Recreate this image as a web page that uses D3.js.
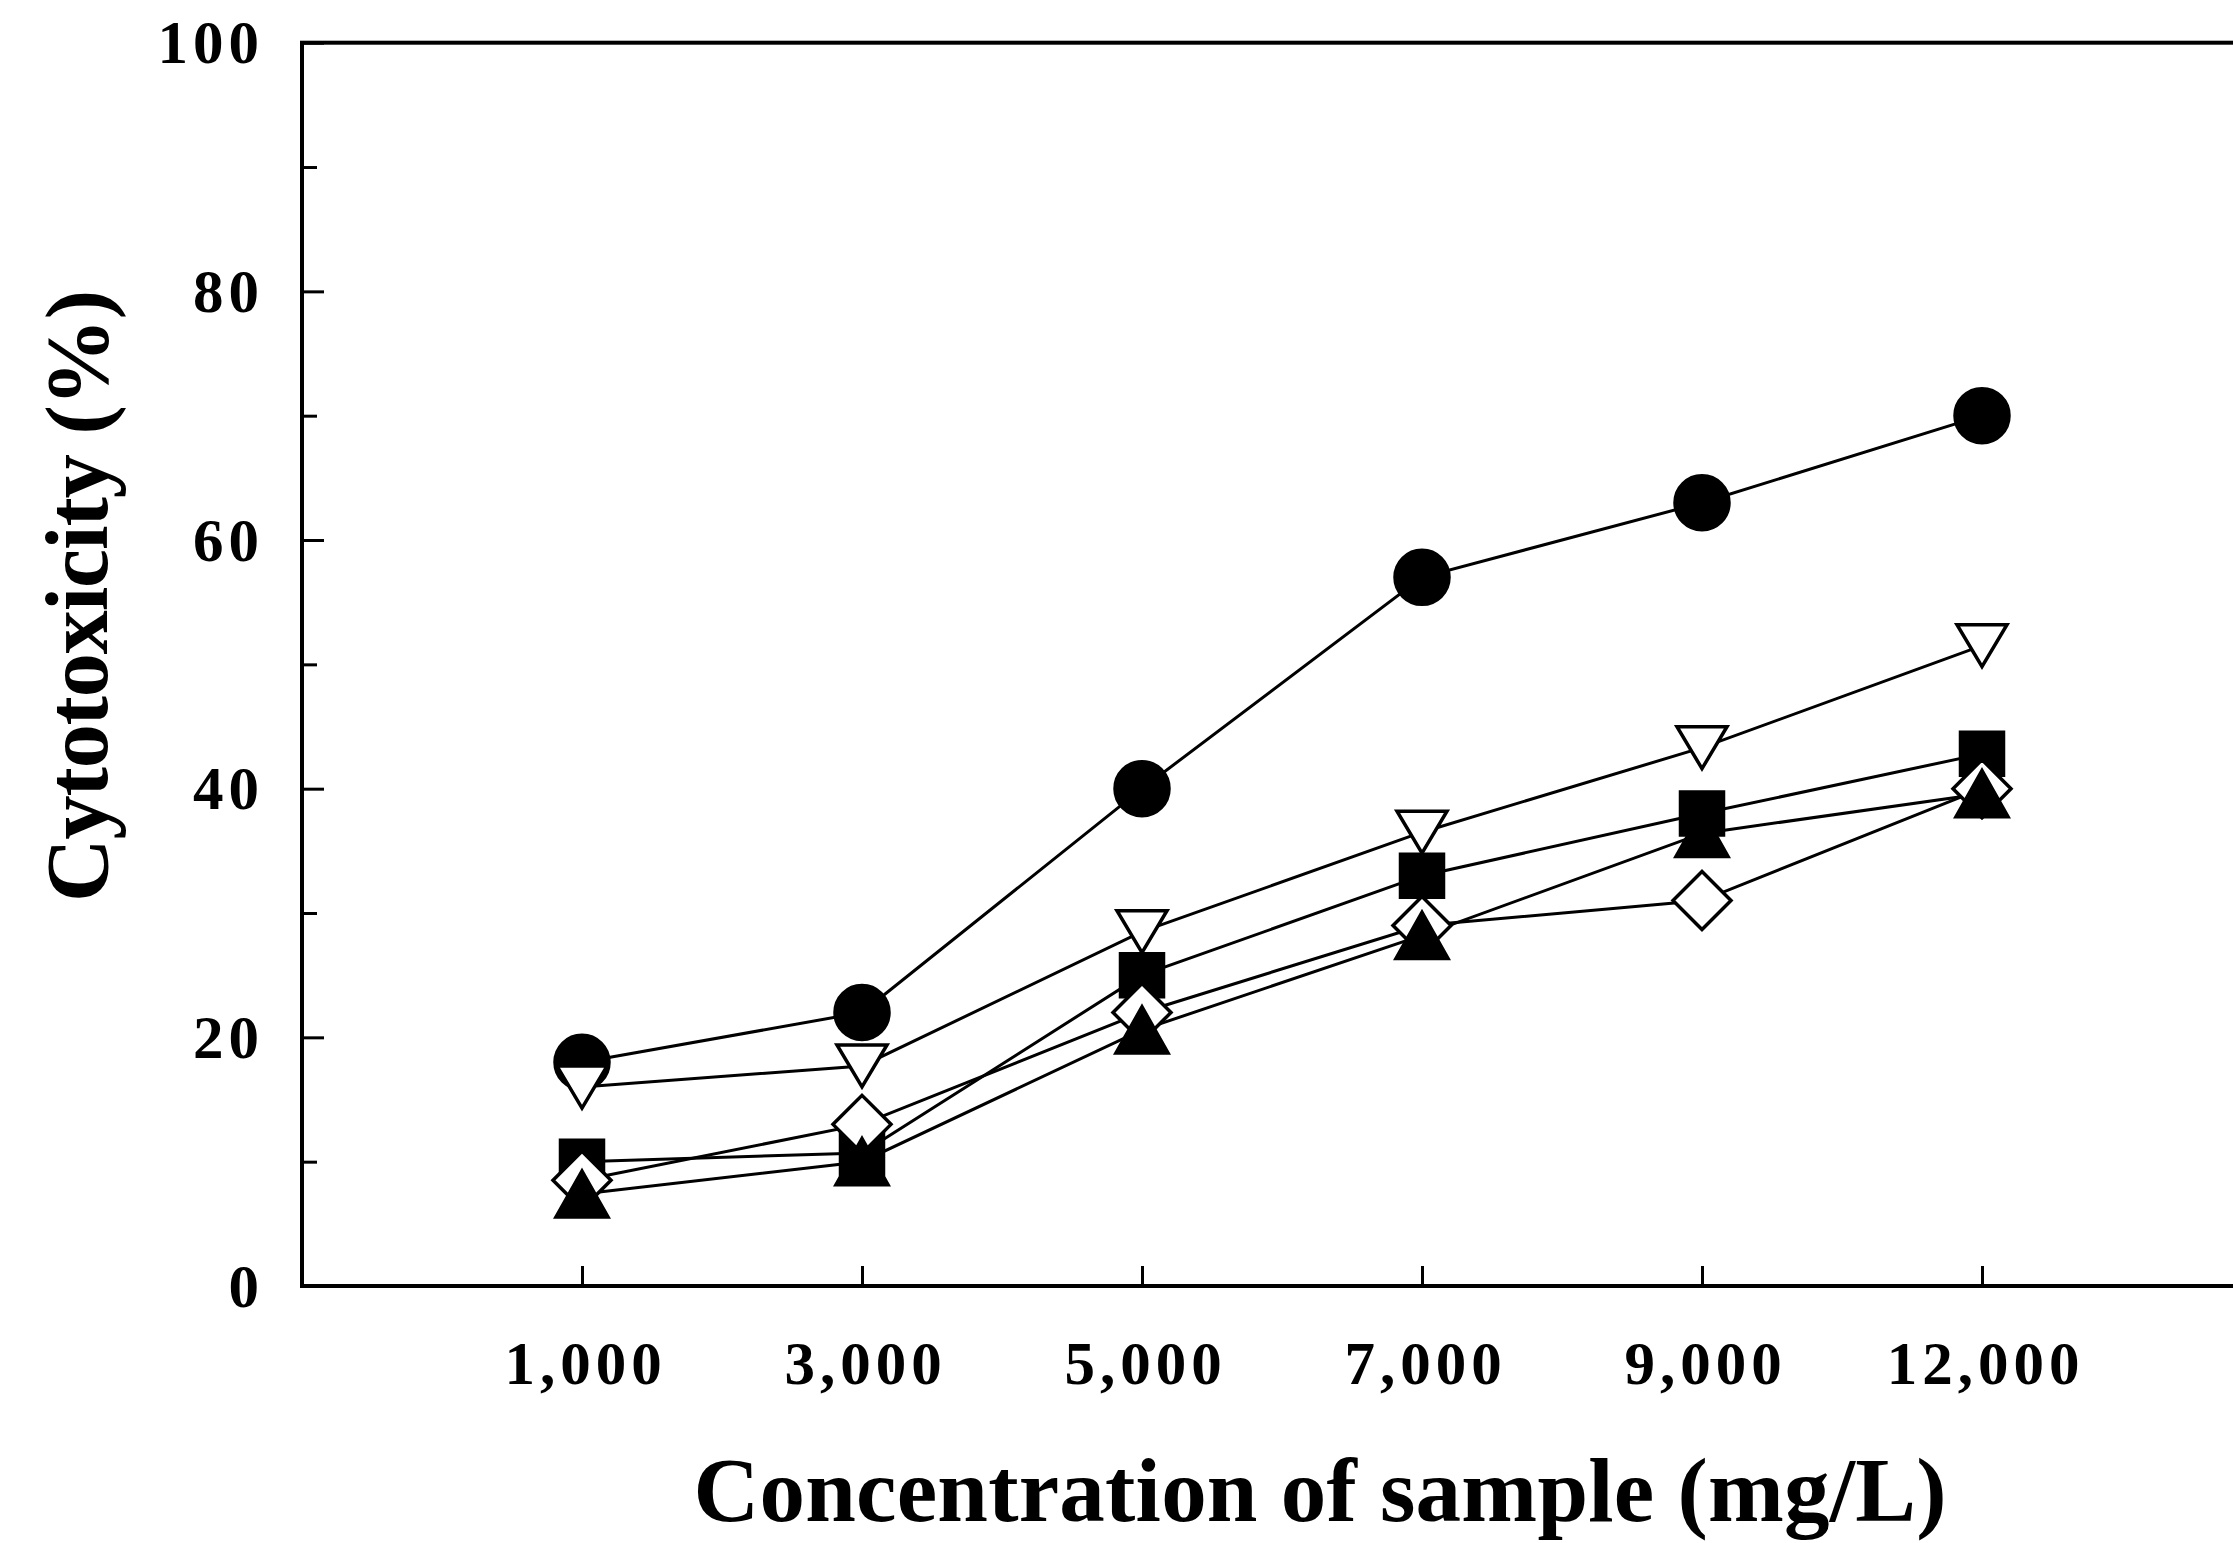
<!DOCTYPE html>
<html lang="en">

<script src="https://d3js.org/d3.v7.min.js"></script>

<head>
    <meta charset="UTF-8">
    <title>Cytotoxicity</title>

    <style>
        body {
            margin: 0;
            background-color: white;
        }

        svg text {
            font-family: "Liberation Serif", "Times New Roman", serif;
            font-weight: bold;
            fill: black;
        }
    </style>
</head>
<body>

    <svg width="2233" height="1543" id="chart"></svg>

    <script>
        // data
        const concentrations = ["1,000", "3,000", "5,000", "7,000", "9,000", "12,000"];
        const circleValues   = [18, 22, 40, 57, 63, 70];
        const invTriValues   = [16, 17.7, 28.5, 36.5, 43.3, 51.5];
        const squareValues   = [10, 10.7, 25, 33, 38, 42.8];
        const diamondValues  = [8.5, 13, 22, 29, 31, 40];
        const triUpValues    = [7.4, 10, 20.6, 28.2, 36.4, 39.6];

        const yMajorTicks = [0, 20, 40, 60, 80, 100];
        const yMinorTicks = [10, 30, 50, 70, 90];

        // series in drawing order
        const series = [
            { name: "circle",  values: circleValues,  fill: "black" },
            { name: "invTri",  values: invTriValues,  fill: "white" },
            { name: "square",  values: squareValues,  fill: "black" },
            { name: "diamond", values: diamondValues, fill: "white" },
            { name: "triUp",   values: triUpValues,   fill: "black" },
        ];

        const svg = d3.select('#chart');

        // plot box
        const plotLeft = 302, plotRight = 2262, plotTop = 42.7, plotBottom = 1286;

        const x = d3.scalePoint()
            .domain(concentrations)
            .range([plotLeft, plotRight])
            .padding(1);

        const y = d3.scaleLinear()
            .domain([0, 100])
            .range([plotBottom, plotTop]);

        // frame (right side falls off the picture)
        svg.append("rect")
            .attr("x", plotLeft)
            .attr("y", plotTop)
            .attr("width", plotRight - plotLeft)
            .attr("height", plotBottom - plotTop)
            .attr("fill", "none")
            .attr("stroke", "black")
            .attr("stroke-width", 4);

        // y axis, labelled ticks
        const yAxis = svg.append("g")
            .attr("transform", `translate(${plotLeft},0)`)
            .call(d3.axisLeft(y)
                .tickValues(yMajorTicks)
                .tickSizeInner(-22)
                .tickSizeOuter(0)
                .tickPadding(38));
        yAxis.select(".domain").remove();
        yAxis.selectAll("line").attr("stroke-width", 3);
        yAxis.selectAll("text")
            .attr("font-size", 61)
            .attr("letter-spacing", 5)
            .attr("dy", "0.33em");

        // y axis, small ticks in between
        const yMinor = svg.append("g")
            .attr("transform", `translate(${plotLeft},0)`)
            .call(d3.axisLeft(y)
                .tickValues(yMinorTicks)
                .tickSizeInner(-15)
                .tickSizeOuter(0)
                .tickFormat(""));
        yMinor.select(".domain").remove();
        yMinor.selectAll("line").attr("stroke-width", 3);

        // x axis
        const xAxis = svg.append("g")
            .attr("transform", `translate(0,${plotBottom})`)
            .call(d3.axisBottom(x)
                .tickSizeInner(-20)
                .tickSizeOuter(0)
                .tickPadding(55));
        xAxis.select(".domain").remove();
        xAxis.selectAll("line").attr("stroke-width", 3);
        xAxis.selectAll("text")
            .attr("font-size", 61)
            .attr("letter-spacing", 5)
            .attr("dx", 3);

        // axis titles
        svg.append("text")
            .attr("x", 1320)
            .attr("y", 1521)
            .attr("text-anchor", "middle")
            .attr("font-size", 91)
            .attr("textLength", 1253)
            .attr("lengthAdjust", "spacing")
            .text("Concentration of sample (mg/L)");

        svg.append("text")
            .attr("transform", "translate(107,596) rotate(-90)")
            .attr("text-anchor", "middle")
            .attr("font-size", 88)
            .attr("textLength", 612)
            .attr("lengthAdjust", "spacing")
            .text("Cytotoxicity (%)");

        // marker shapes, centred on the point
        function markerPath(shape) {
            const p = d3.path();
            if (shape === "circle") {
                p.arc(0, 0, 27, 0, 2 * Math.PI);
            } else if (shape === "square") {
                p.rect(-21.5, -21.5, 43, 43);
            } else if (shape === "diamond") {
                p.moveTo(0, -29);
                p.lineTo(29, 0);
                p.lineTo(0, 29);
                p.lineTo(-29, 0);
                p.closePath();
            } else if (shape === "invTri") {
                p.moveTo(-25, -21);
                p.lineTo(25, -21);
                p.lineTo(0, 21);
                p.closePath();
            } else if (shape === "triUp") {
                p.moveTo(0, -23);
                p.lineTo(26, 23);
                p.lineTo(-26, 23);
                p.closePath();
            }
            return p.toString();
        }

        const line = d3.line()
            .x((d, i) => x(concentrations[i]))
            .y(d => y(d));

        // lines first, markers on top
        series.forEach(s => {
            svg.append("path")
                .datum(s.values)
                .attr("d", line)
                .attr("fill", "none")
                .attr("stroke", "black")
                .attr("stroke-width", 3);
        });

        series.forEach(s => {
            svg.append("g")
                .selectAll("path")
                .data(s.values)
                .join("path")
                .attr("transform", (d, i) => `translate(${x(concentrations[i])},${y(d)})`)
                .attr("d", markerPath(s.name))
                .attr("fill", s.fill)
                .attr("stroke", "black")
                .attr("stroke-width", 3.5);
        });
    </script>
</body>
</html>
